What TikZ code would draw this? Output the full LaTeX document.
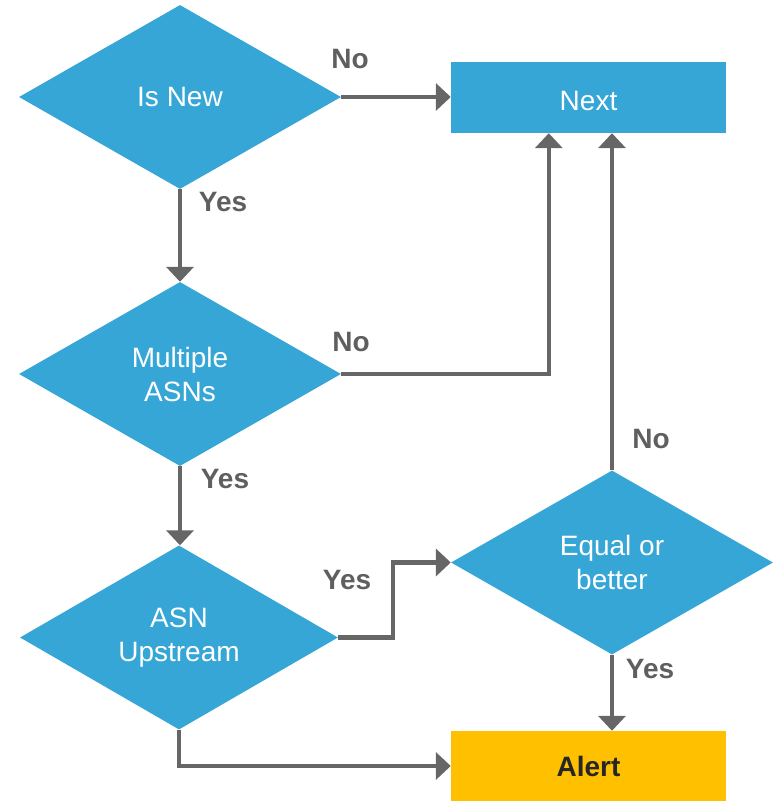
\documentclass[tikz,border=0pt]{standalone}
\usepackage{fontspec}
\setmainfont{Liberation Sans}
\usetikzlibrary{shapes.geometric,arrows.meta,calc}
\definecolor{fblue}{HTML}{36A6D7}
\definecolor{fyellow}{HTML}{FFC000}
\definecolor{fgray}{HTML}{666666}
\definecolor{flabel}{HTML}{5F5F5F}
\definecolor{fdark}{HTML}{262626}
\tikzset{
  decision/.style={shape=diamond, fill=fblue, text=white, inner sep=0pt,
    minimum width=322pt, minimum height=184pt, align=center,
    font=\fontsize{28}{34}\selectfont},
  boxnode/.style={shape=rectangle, inner sep=0pt, align=center},
  arr/.style={draw=fgray, line width=4.5pt,
    -{Triangle[length=15pt,width=27pt]}},
  lbl/.style={text=flabel, font=\fontsize{28}{32}\selectfont\bfseries, inner sep=0pt}
}
\begin{document}
\begin{tikzpicture}[x=1pt,y=-1pt]
\useasboundingbox (0,0) rectangle (776,801);
% nodes
\node[decision] (d1) at (180,97) {Is New};
\node[decision] (d2) at (180,374) {Multiple\\ASNs};
\node[decision, minimum width=318pt] (d3) at (179,637.5) {ASN\\Upstream};
\node[decision] (d4) at (612,562.5) {Equal or\\better};
\node[boxnode, fill=fblue, text=white, minimum width=275pt, minimum height=71pt,
  font=\fontsize{28}{32}\selectfont, text height=25pt, text depth=0pt] (next) at (588.5,97.5) {Next};
\node[boxnode, fill=fyellow, text=fdark, minimum width=275pt, minimum height=70pt,
  font=\fontsize{28}{32}\selectfont\bfseries] (alert) at (588.5,766) {Alert};
% connectors
\draw[arr] (d1.east) -- (d1.east -| next.west);
\draw[arr] (d1.south) -- (d2.north);
\draw[arr] (d2.east) -| ([xshift=98pt]next.south west);
\draw[arr] (d2.south) -- (d2.south |- d3.north);
\draw[arr] (d3.east) -- ++(55,0) |- (d4.west);
\draw[arr] (d3.south) |- (alert.west);
\draw[arr] (d4.north) -- (d4.north |- next.south);
\draw[arr] (d4.south) -- (d4.south |- alert.north);
% labels
\node[lbl] (l1) at (350,59) {No};
\node[lbl] (l2) at (223,202) {Yes};
\node[lbl] (l3) at (351,342) {No};
\node[lbl] (l4) at (225,479) {Yes};
\node[lbl] (l5) at (347,580) {Yes};
\node[lbl] (l6) at (651,439) {No};
\node[lbl] (l7) at (650,669) {Yes};
\end{tikzpicture}
\end{document}
